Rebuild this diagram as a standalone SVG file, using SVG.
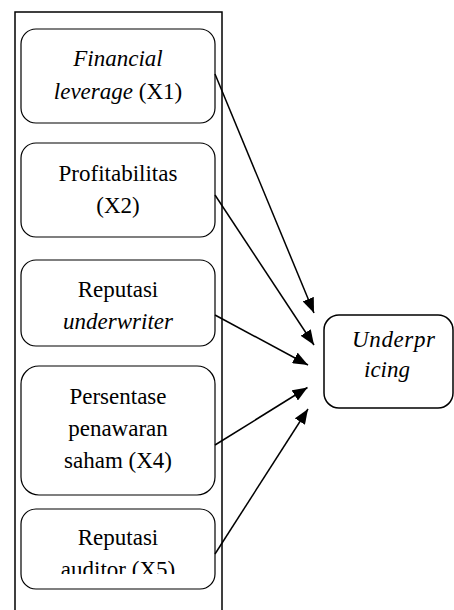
<svg xmlns="http://www.w3.org/2000/svg" width="454" height="610" viewBox="0 0 454 610">
<defs>
<style>
.frame{fill:none;stroke:#000;stroke-width:1.5}
.box{fill:#fff;stroke:#000;stroke-width:1.2}
text{font-family:'Liberation Serif','Times New Roman',serif;font-size:23px;fill:#000;text-anchor:middle}
.i{font-style:italic}
.c{stroke:#000;stroke-width:1.5;fill:none;marker-end:url(#ah2)}
</style>
<marker id="ah2" viewBox="0 0 15 12" refX="15" refY="6" markerWidth="15" markerHeight="12" markerUnits="userSpaceOnUse" orient="auto">
<path d="M0,0 L15,6 L0,12 z" fill="#000"/>
</marker>
<clipPath id="clip5"><rect x="21" y="509" width="194" height="65"/></clipPath>
</defs>
<rect class="frame" x="15" y="12" width="207" height="610"/>
<g id="x1">
<rect class="box" x="21" y="29" width="194" height="94" rx="15" ry="15"/>
<text class="i" x="118" y="66">Financial</text>
<text x="118" y="98.5"><tspan class="i">leverage</tspan> (X1)</text>
</g>
<g id="x2">
<rect class="box" x="21" y="143" width="194" height="94" rx="15" ry="15"/>
<text x="118" y="181">Profitabilitas</text>
<text x="118" y="213">(X2)</text>
</g>
<g id="x3">
<rect class="box" x="21" y="260" width="194" height="86" rx="15" ry="15"/>
<text x="118" y="297">Reputasi</text>
<text class="i" x="118" y="328.5">underwriter</text>
</g>
<g id="x4">
<rect class="box" x="21" y="366" width="194" height="129" rx="18" ry="18"/>
<text x="118" y="404">Persentase</text>
<text x="118" y="436">penawaran</text>
<text x="118" y="468">saham (X4)</text>
</g>
<g id="x5">
<rect class="box" x="21" y="509" width="194" height="80" rx="15" ry="15"/>
<text x="118" y="545">Reputasi</text>
<text x="118" y="577" clip-path="url(#clip5)">auditor (X5)</text>
</g>
<g id="y">
<rect class="frame" x="324" y="315" width="129" height="93" rx="15" ry="15" fill="#fff"/>
<text class="i" x="352" y="346.5" style="text-anchor:start" textLength="83" lengthAdjust="spacing">Underpr</text>
<text class="i" x="387" y="376.5">icing</text>
</g>
<g id="connectors">
<line class="c" x1="215" y1="74" x2="314" y2="313"/>
<line class="c" x1="215" y1="195" x2="314" y2="345"/>
<line class="c" x1="215" y1="315" x2="308" y2="365"/>
<line class="c" x1="215" y1="445" x2="307.5" y2="387.5"/>
<line class="c" x1="215" y1="554" x2="308" y2="409"/>
</g>
</svg>
